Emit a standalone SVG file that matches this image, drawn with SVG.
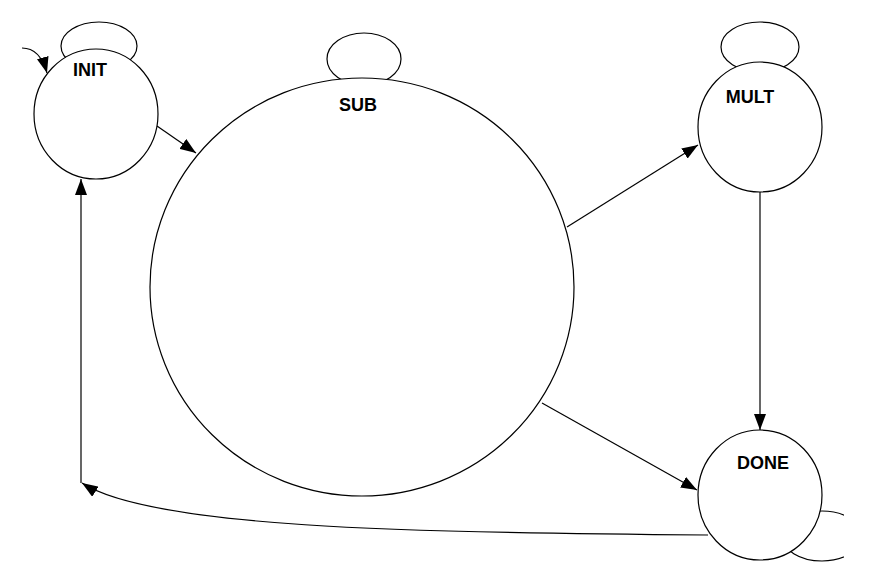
<svg xmlns="http://www.w3.org/2000/svg" width="880" height="564" viewBox="0 0 880 564">
<defs>
<style>
.st{fill:none;stroke:#000;stroke-width:1.2}
.node{fill:#fff;stroke:#000;stroke-width:1.2}
.lbl{font-family:"Liberation Sans",Arial,sans-serif;font-weight:bold;font-size:18px;fill:#000;text-anchor:middle}
.con{fill:none;stroke:#000;stroke-width:1.2;marker-end:url(#ah)}
</style>
<marker id="ah" markerUnits="userSpaceOnUse" markerWidth="18" markerHeight="12" refX="16" refY="6" orient="auto">
<path d="M0,0 L16,6 L0,12 Z" fill="#000"/>
</marker>
<clipPath id="clipR"><rect x="0" y="0" width="844" height="564"/></clipPath>
</defs>
<rect width="880" height="564" fill="#fff"/>
<g id="loops">
<ellipse class="st" cx="99" cy="46" rx="38" ry="24"/>
<ellipse class="st" cx="364" cy="59" rx="37" ry="26"/>
<ellipse class="st" cx="760" cy="47" rx="39" ry="25"/>
<ellipse class="st" cx="822" cy="536" rx="40" ry="25" clip-path="url(#clipR)"/>
</g>
<g id="INIT"><ellipse class="node" cx="96" cy="114" rx="62" ry="65"/><text class="lbl" x="90" y="76">INIT</text></g>
<g id="SUB"><ellipse class="node" cx="362" cy="287" rx="212" ry="209"/><text class="lbl" x="358" y="111">SUB</text></g>
<g id="MULT"><ellipse class="node" cx="760" cy="127" rx="62" ry="65"/><text class="lbl" x="750" y="103">MULT</text></g>
<g id="DONE"><ellipse class="node" cx="760" cy="495" rx="62" ry="65"/><text class="lbl" x="763" y="469">DONE</text></g>
<g id="connectors">
<path class="con" d="M22,48 Q40,48 47,73"/>
<path class="con" d="M157,126 L196,153"/>
<path class="con" d="M567,227 L698,145"/>
<path class="con" d="M760,192 L760,430"/>
<path class="con" d="M542,403 L697,490"/>
<path class="con" d="M708,535 C400,533 150,527 82,483"/>
<path class="con" d="M81,483 L81,179"/>
</g>
</svg>
